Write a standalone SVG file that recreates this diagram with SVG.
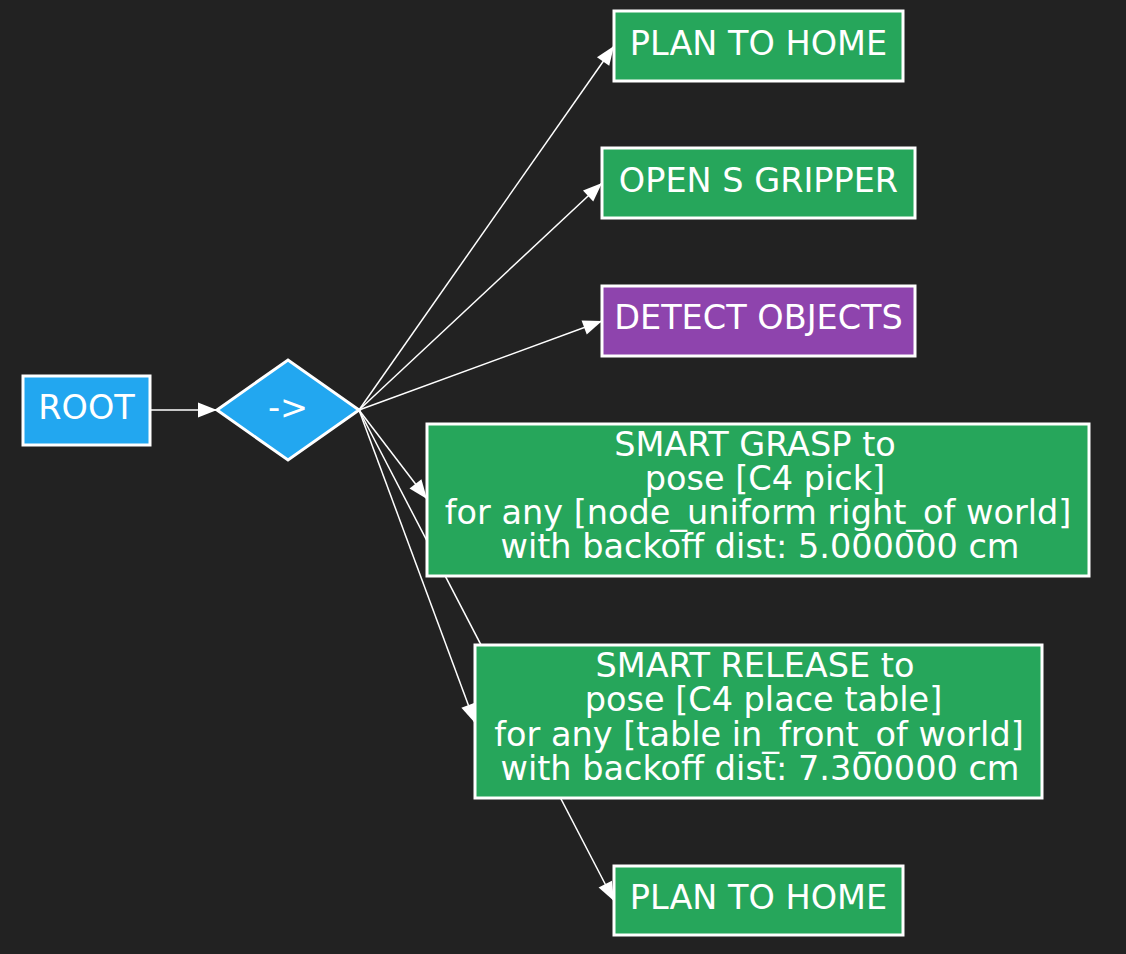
<svg xmlns="http://www.w3.org/2000/svg" width="1126" height="954" viewBox="0 0 1126 954">
<defs>
<marker id="arrow" markerWidth="20" markerHeight="16" refX="19" refY="7.5" orient="auto" markerUnits="userSpaceOnUse" overflow="visible">
<path d="M0,0 L19,7.5 L0,15 z" fill="#ffffff"/>
</marker>
<style>
.edge{stroke:#ffffff;stroke-width:1.5;fill:none;marker-end:url(#arrow)}
.node rect,.node polygon{stroke:#ffffff;stroke-width:3}
.green{fill:#26a65b}
.blue{fill:#22a7f0}
.purple{fill:#8e44ad}
text{font-family:"DejaVu Sans","Liberation Sans",sans-serif;font-size:33.5px;fill:#ffffff;text-anchor:middle}
</style>
</defs>
<rect x="0" y="0" width="1126" height="954" fill="#222222"/>
<g id="connectors">
<path class="edge" d="M150,410 L217,410"/>
<path class="edge" d="M359,410 L614,46"/>
<path class="edge" d="M359,410 L602,183"/>
<path class="edge" d="M359,410 L602,321"/>
<path class="edge" d="M359,410 L427,499"/>
<path class="edge" d="M359,410 L475,723"/>
<path class="edge" d="M359,410 L614,901"/>
</g>
<g id="root" class="node">
<rect class="blue" x="23" y="376" width="127" height="69"/>
<text x="86.5" y="418.5">ROOT</text>
</g>
<g id="sequence" class="node">
<polygon class="blue" points="217,410 288,360 359,410 288,460"/>
<text x="288" y="418.5">-&gt;</text>
</g>
<g id="plan_to_home_1" class="node">
<rect class="green" x="614" y="11" width="289" height="70"/>
<text x="758.5" y="54.5">PLAN TO HOME</text>
</g>
<g id="open_s_gripper" class="node">
<rect class="green" x="602" y="148" width="313" height="70"/>
<text x="758.5" y="191.7">OPEN S GRIPPER</text>
</g>
<g id="detect_objects" class="node">
<rect class="purple" x="602" y="286" width="313" height="70"/>
<text x="758.5" y="328.5">DETECT OBJECTS</text>
</g>
<g id="smart_grasp" class="node">
<rect class="green" x="427" y="424" width="662" height="152"/>
<text x="755" y="455.5">SMART GRASP to</text>
<text x="765" y="489.7">pose [C4 pick]</text>
<text x="758" y="523.9">for any [node_uniform right_of world]</text>
<text x="760" y="558.1">with backoff dist: 5.000000 cm</text>
</g>
<g id="smart_release" class="node">
<rect class="green" x="475" y="645" width="567" height="153"/>
<text x="755" y="677.2">SMART RELEASE to</text>
<text x="763.5" y="711.4">pose [C4 place table]</text>
<text x="759" y="745.6">for any [table in_front_of world]</text>
<text x="760" y="779.8">with backoff dist: 7.300000 cm</text>
</g>
<g id="plan_to_home_2" class="node">
<rect class="green" x="614" y="866" width="289" height="69"/>
<text x="758.5" y="908.5">PLAN TO HOME</text>
</g>
</svg>
